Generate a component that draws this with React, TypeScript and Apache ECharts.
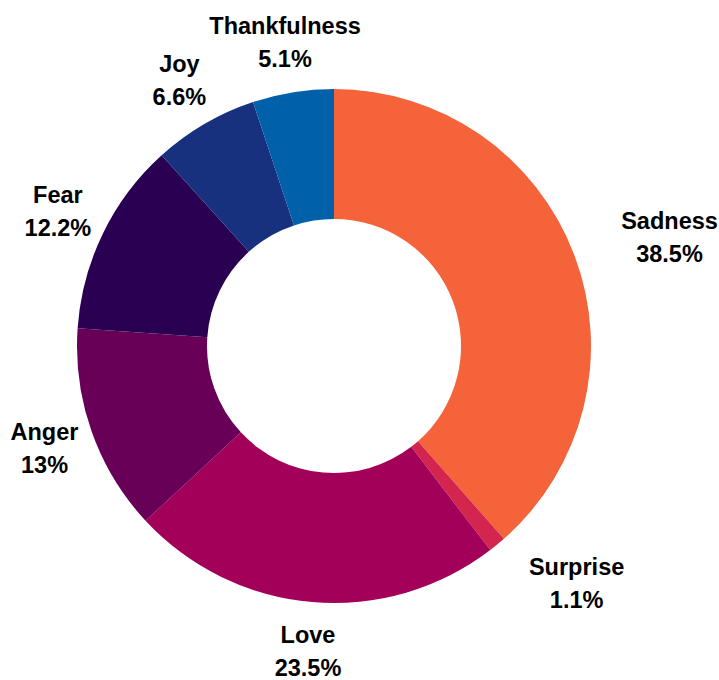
import React, { useEffect, useRef } from "react";
import * as echarts from "echarts";

const categories = ["Sadness", "Surprise", "Love", "Anger", "Fear", "Joy", "Thankfulness"];
const shares = [38.5, 1.1, 23.5, 13, 12.2, 6.6, 5.1];
const colors = ["#F4633A", "#D3254E", "#A30059", "#680058", "#2A0052", "#17317F", "#0061AA"];

export default function App() {
  const ref = useRef<HTMLDivElement>(null);
  useEffect(() => {
    if (!ref.current) return;
    const chart = echarts.init(ref.current, undefined, { renderer: "svg" });
    chart.setOption({
      animation: false,
      backgroundColor: "#ffffff",
      series: [
        {
          type: "pie",
          center: [334, 346],
          radius: [127, 257],
          startAngle: 90,
          clockwise: true,
          avoidLabelOverlap: false,
          silent: true,
          emphasis: { disabled: true },
          data: categories.map((name, i) => ({
            name,
            value: shares[i],
            itemStyle: { color: colors[i] },
          })),
          label: {
            show: true,
            position: "outside",
            distanceToLabelLine: 0,
            formatter: (p: any) => `{a|${p.name}}\n{a|${p.value}%}`,
            rich: {
              a: {
                align: "center",
                fontSize: 23.5,
                fontWeight: "bold",
                lineHeight: 33,
                color: "#000000",
                fontFamily: "Liberation Sans, Arial, sans-serif",
              },
            },
          },
          labelLine: { show: false, length: 50, length2: 0 },
          labelLayout: (params: any) => ({
            align: params.align === "right" ? "center" : params.align,
          }),
        },
      ],
    });
    return () => chart.dispose();
  }, []);
  return (
    <div
      ref={ref}
      style={{ position: "absolute", left: 0, top: 0, width: 719, height: 680 }}
    />
  );
}
